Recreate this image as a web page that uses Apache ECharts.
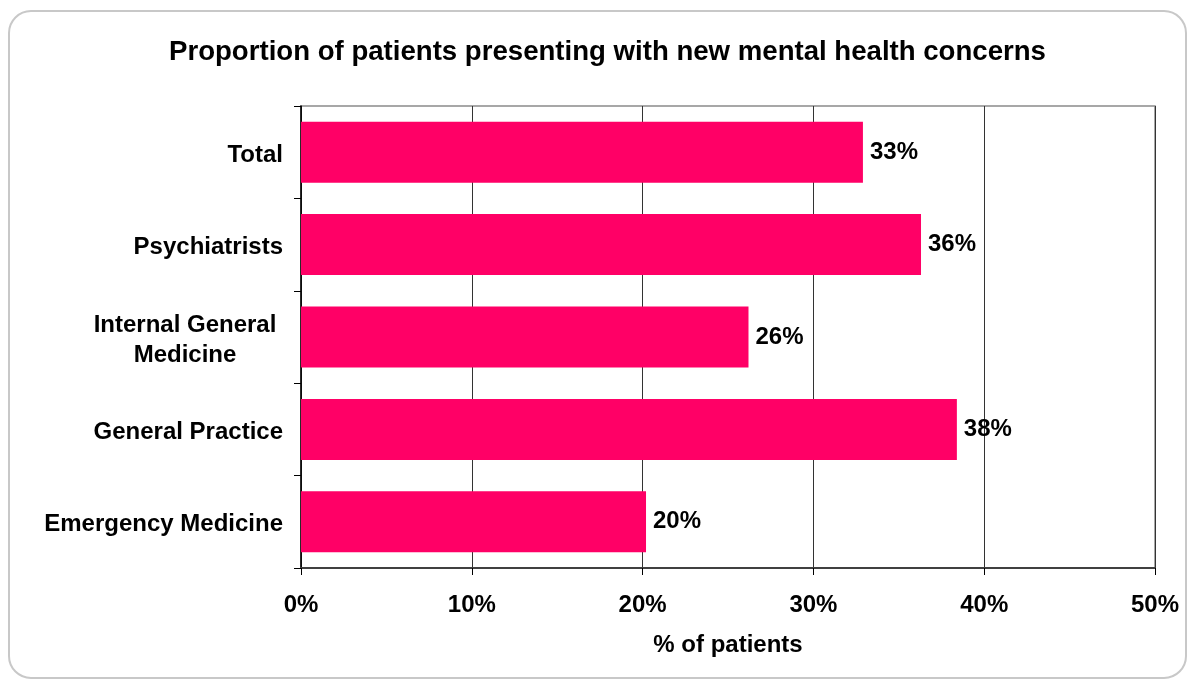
<!DOCTYPE html>
<html>
<head>
<meta charset="utf-8">
<script src="https://cdn.jsdelivr.net/npm/echarts@6/dist/echarts.min.js"></script>
<style>
  html, body { margin: 0; padding: 0; background: #fff; }
  #chart { width: 1189px; height: 681px; }
</style>
</head>
<body>
<div id="chart"></div>
<script>
// Categories listed top to bottom
const categories = ['Total', 'Psychiatrists', 'Internal General Medicine', 'General Practice', 'Emergency Medicine'];
// Share of patients with new mental health concerns (%)
const shares = [32.9, 36.3, 26.2, 38.4, 20.2];
const xTicks = [0, 10, 20, 30, 40, 50];

const FONT = '"Liberation Sans", Arial, sans-serif';
const chart = echarts.init(document.getElementById('chart'), null, { renderer: 'canvas' });

chart.setOption({
  animation: false,
  backgroundColor: '#ffffff',
  graphic: [{
    type: 'rect',
    shape: { x: 9, y: 11, width: 1177, height: 667, r: 22 },
    style: { fill: 'none', stroke: '#c8c8c8', lineWidth: 2 },
    silent: true
  }],
  title: {
    text: 'Proportion of patients presenting with new mental health concerns',
    left: 164,
    top: 33,
    textStyle: { fontFamily: FONT, fontSize: 27.6, fontWeight: 'bold', color: '#000' }
  },
  grid: {
    left: 301, right: 34, top: 106, bottom: 113,
    show: true, borderColor: '#8a8a8a', borderWidth: 1.5, backgroundColor: 'transparent'
  },
  xAxis: {
    type: 'value',
    min: xTicks[0],
    max: xTicks[xTicks.length - 1],
    interval: 10,
    name: '% of patients',
    nameLocation: 'middle',
    nameGap: 65,
    nameTextStyle: { fontFamily: FONT, fontSize: 24, fontWeight: 'bold', color: '#000' },
    axisLine: { show: true, lineStyle: { color: '#404040', width: 2 } },
    axisTick: { show: true, length: 7, lineStyle: { color: '#000', width: 1 } },
    axisLabel: {
      margin: 25,
      fontFamily: FONT, fontSize: 24, fontWeight: 'bold', color: '#000',
      formatter: v => v + '%'
    },
    splitLine: { show: true, lineStyle: { color: '#333', width: 1 } }
  },
  yAxis: {
    type: 'category',
    data: categories,
    inverse: true,
    axisLine: { show: true, lineStyle: { color: '#000', width: 1.5 } },
    axisTick: { show: true, length: 7, lineStyle: { color: '#000', width: 1 } },
    axisLabel: {
      margin: 18,
      padding: [6, 0, 0, 0],
      fontFamily: FONT, fontSize: 24, fontWeight: 'bold', color: '#000',
      lineHeight: 30,
      formatter: function (v) {
        if (v === 'Internal General Medicine') {
          return '{c|Internal General}\n{c|Medicine}';
        }
        return v;
      },
      rich: {
        c: { width: 196, align: 'center', fontFamily: FONT, fontSize: 24, fontWeight: 'bold', color: '#000', lineHeight: 30 }
      }
    },
    splitLine: { show: false }
  },
  series: [{
    type: 'bar',
    data: shares,
    barCategoryGap: '34%',
    itemStyle: { color: '#ff0066' },
    label: {
      show: true,
      position: 'right',
      distance: 7,
      padding: [4, 0, 0, 0],
      fontFamily: FONT, fontSize: 24, fontWeight: 'bold', color: '#000',
      formatter: p => Math.round(p.value) + '%'
    }
  }]
});
</script>
</body>
</html>
